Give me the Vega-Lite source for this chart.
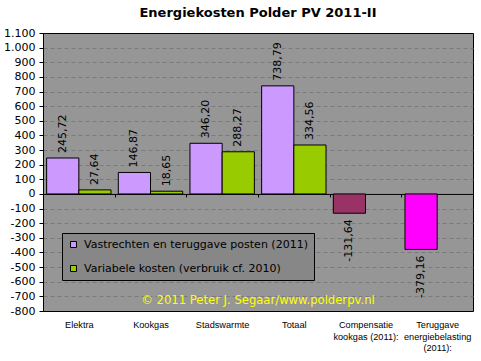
{
  "$schema": "https://vega.github.io/schema/vega-lite/v6.json",
  "width": 430,
  "height": 278,
  "autosize": "none",
  "padding": {"left": 43, "top": 33, "right": 8, "bottom": 50},
  "background": "white",
  "title": {"text": "Energiekosten Polder PV 2011-II", "font": "DejaVu Sans", "fontSize": 13, "fontWeight": "bold", "color": "black", "anchor": "middle", "offset": 7},
  "config": {
    "locale": {"number": {"decimal": ",", "thousands": ".", "grouping": [3], "currency": ["€ ", ""], "minus": "-"}},
    "view": {"fill": "#969696", "stroke": "black", "strokeWidth": 1},
    "font": "DejaVu Sans"
  },
  "data": {"values": [
    {"categorie": "Elektra", "serie": "Vastrechten en teruggave posten (2011)", "waarde": 245.72},
    {"categorie": "Elektra", "serie": "Variabele kosten (verbruik cf. 2010)", "waarde": 27.64},
    {"categorie": "Kookgas", "serie": "Vastrechten en teruggave posten (2011)", "waarde": 146.87},
    {"categorie": "Kookgas", "serie": "Variabele kosten (verbruik cf. 2010)", "waarde": 18.65},
    {"categorie": "Stadswarmte", "serie": "Vastrechten en teruggave posten (2011)", "waarde": 346.20},
    {"categorie": "Stadswarmte", "serie": "Variabele kosten (verbruik cf. 2010)", "waarde": 288.27},
    {"categorie": "Totaal", "serie": "Vastrechten en teruggave posten (2011)", "waarde": 738.79},
    {"categorie": "Totaal", "serie": "Variabele kosten (verbruik cf. 2010)", "waarde": 334.56},
    {"categorie": "Compensatie kookgas (2011):", "serie": "Vastrechten en teruggave posten (2011)", "waarde": -131.64},
    {"categorie": "Teruggave energiebelasting (2011):", "serie": "Vastrechten en teruggave posten (2011)", "waarde": -379.16}
  ]},
  "layer": [
    {
      "mark": {"type": "bar", "stroke": "black", "strokeWidth": 1},
      "encoding": {
        "x": {"field": "categorie", "type": "nominal", "sort": null,
          "scale": {"paddingInner": 0, "paddingOuter": 0},
          "axis": {"title": null, "orient": "bottom", "offset": -117.05, "domainColor": "black", "domainWidth": 1,
            "tickBand": "extent", "tickColor": "black", "tickSize": 3, "labelAngle": 0,
            "labelFont": "Liberation Sans", "labelFontSize": 9.2, "labelColor": "black", "labelPadding": 124,
            "labelBaseline": "top", "labelLineHeight": 11.5, "labelLimit": 0, "labelAlign": "center",
            "labelExpr": "datum.label == 'Compensatie kookgas (2011):' ? ['Compensatie', 'kookgas (2011):'] : datum.label == 'Teruggave energiebelasting (2011):' ? ['Teruggave', 'energiebelasting', '(2011):'] : datum.label"}},
        "xOffset": {"field": "serie", "type": "nominal", "sort": null, "scale": {"paddingInner": 0, "paddingOuter": 0.113}},
        "y": {"field": "waarde", "type": "quantitative",
          "scale": {"domain": [-800, 1100], "nice": false, "zero": false},
          "axis": {"title": null, "tickCount": 19, "format": ",.0f", "grid": true, "gridColor": "#7a7a7a", "gridDash": [4, 3],
            "gridOpacity": {"condition": {"test": "datum.value == 1100 || datum.value == -800 || datum.value == 0", "value": 0}, "value": 1},
            "domainColor": "black", "tickColor": "black", "tickSize": 4, "labelFontSize": 11, "labelColor": "black",
            "labelPadding": 4, "labelFont": "DejaVu Sans"}},
        "color": {
          "condition": [
            {"test": "datum.categorie == 'Compensatie kookgas (2011):'", "value": "#993366"},
            {"test": "datum.categorie == 'Teruggave energiebelasting (2011):'", "value": "#ff00ff"}
          ],
          "field": "serie", "type": "nominal", "sort": null,
          "scale": {"domain": ["Vastrechten en teruggave posten (2011)", "Variabele kosten (verbruik cf. 2010)"], "range": ["#cc99ff", "#99cc00"]},
          "legend": {"title": null, "orient": "none", "legendX": 19, "legendY": 200, "fillColor": "#878787", "strokeColor": "black",
            "padding": 6, "symbolType": "square", "symbolSize": 36, "symbolStrokeColor": "black", "symbolStrokeWidth": 1,
            "labelFont": "DejaVu Sans", "labelFontSize": 11, "labelColor": "black", "labelLimit": 400, "labelOffset": 5, "rowPadding": 12}
        }
      }
    },
    {
      "transform": [{"filter": "datum.waarde >= 0"}],
      "mark": {"type": "text", "angle": 270, "align": "left", "baseline": "middle", "dx": 5, "fontSize": 11, "color": "black", "font": "DejaVu Sans"},
      "encoding": {
        "x": {"field": "categorie", "type": "nominal", "sort": null},
        "xOffset": {"field": "serie", "type": "nominal", "sort": null},
        "y": {"field": "waarde", "type": "quantitative"},
        "text": {"field": "waarde", "type": "quantitative", "format": ",.2f"}
      }
    },
    {
      "transform": [{"filter": "datum.waarde < 0"}],
      "mark": {"type": "text", "angle": 270, "align": "right", "baseline": "middle", "dx": -6, "fontSize": 11, "color": "black", "font": "DejaVu Sans"},
      "encoding": {
        "x": {"field": "categorie", "type": "nominal", "sort": null},
        "xOffset": {"field": "serie", "type": "nominal", "sort": null},
        "y": {"field": "waarde", "type": "quantitative"},
        "text": {"field": "waarde", "type": "quantitative", "format": ",.2f"}
      }
    },
    {
      "data": {"values": [{"tekst": "© 2011 Peter J. Segaar/www.polderpv.nl"}]},
      "mark": {"type": "text", "color": "#ffff00", "align": "center", "baseline": "middle", "fontSize": 11.6, "font": "DejaVu Sans"},
      "encoding": {
        "x": {"datum": "Totaal", "bandPosition": 0},
        "y": {"datum": -735},
        "text": {"field": "tekst", "type": "nominal"}
      }
    }
  ]
}
